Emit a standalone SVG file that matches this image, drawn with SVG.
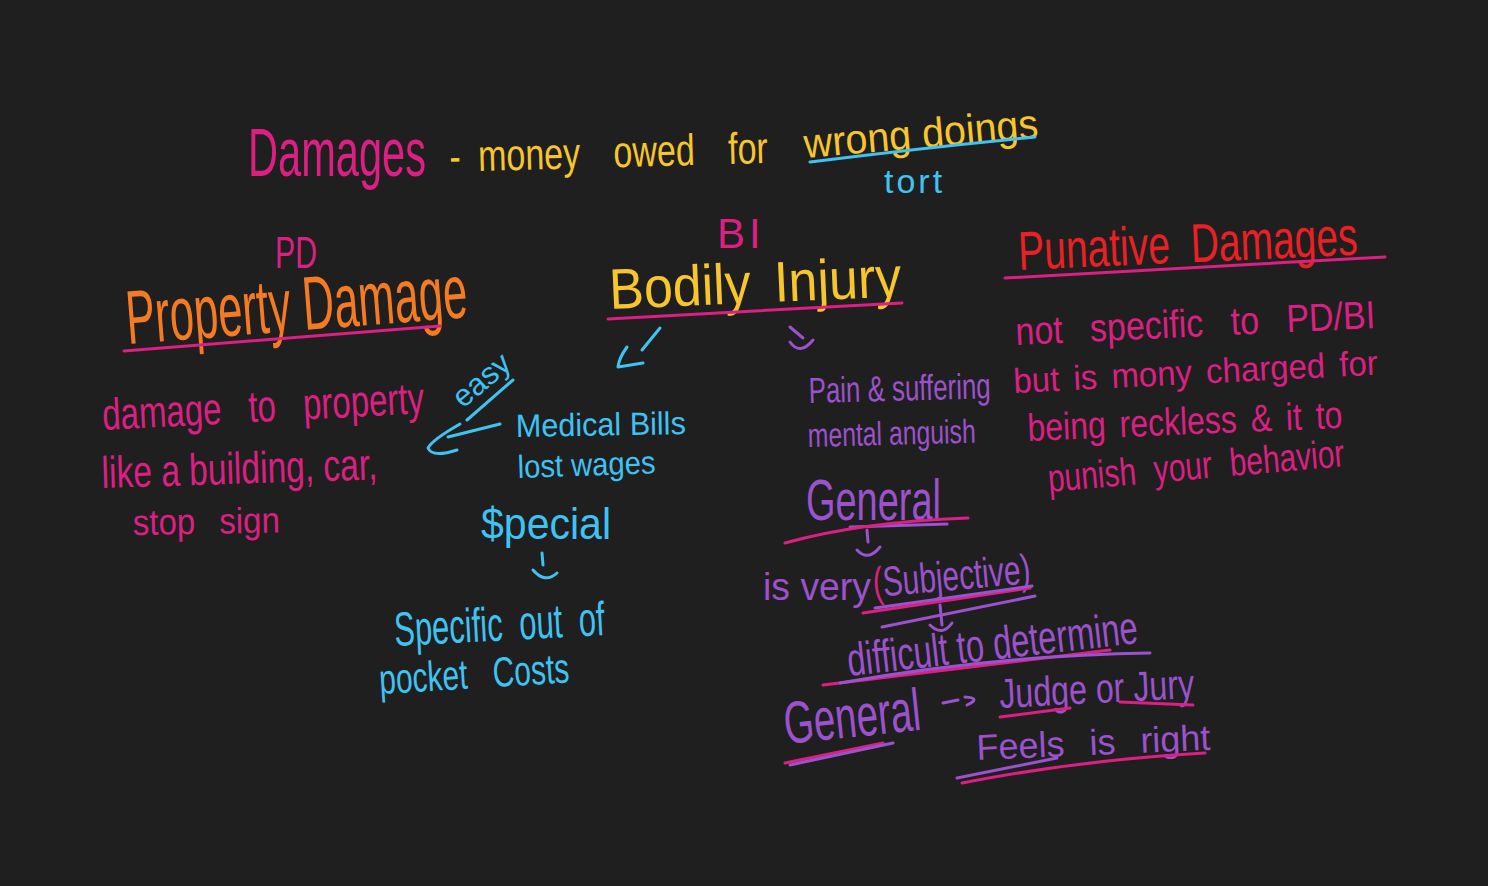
<svg xmlns="http://www.w3.org/2000/svg" width="1488" height="886" viewBox="0 0 1488 886">
<style>
text{font-family:"Liberation Sans","DejaVu Sans",sans-serif;}
.pk{fill:#dc1f82}
.ye{fill:#f7c52c}
.or{fill:#f47b22}
.bl{fill:#3ec3f3}
.pu{fill:#9b52cc}
.rd{fill:#ea2024}
.ln{fill:none;stroke-width:3;stroke-linecap:round;stroke-linejoin:round}
.lpk{stroke:#dc1f82}
.lpu{stroke:#9b52cc}
.lbl{stroke:#3ec3f3}
</style>
<rect width="1488" height="886" fill="#1f1f1f"/>

<g id="title">
<text class="pk" font-size="41.6" textLength="178" lengthAdjust="spacingAndGlyphs" transform="translate(248,176) scale(1,1.65)">Damages</text>
<text class="ye" font-size="34" word-spacing="24" transform="translate(445,172) rotate(-1.6) scale(1,1.3)">-<tspan dx="-16"> money owed for</tspan></text>
<text class="ye" font-size="39.5" textLength="235" lengthAdjust="spacingAndGlyphs" transform="translate(805,158) rotate(-5) scale(1,1.05)">wrong doings</text>
<path class="ln lbl" d="M810 162 Q920 148 1035 137"/>
<text class="bl" font-size="34" letter-spacing="3" transform="translate(884,193)">tort</text>
</g>

<g id="property-damage">
<text class="pk" font-size="30" textLength="42" lengthAdjust="spacingAndGlyphs" transform="translate(275,268) scale(1,1.5)">PD</text>
<text class="or" font-size="43.6" textLength="342" lengthAdjust="spacingAndGlyphs" transform="translate(128,344) rotate(-4.5) scale(1,1.75)">Property Damage</text>
<path class="ln lpk" d="M124 351 L440 326"/>
<text class="pk" font-size="33" word-spacing="18" transform="translate(103,430) rotate(-3) scale(1,1.35)">damage to property</text>
<text class="pk" font-size="33" textLength="276" lengthAdjust="spacingAndGlyphs" transform="translate(102,488) rotate(-1.8) scale(1,1.35)">like a building, car,</text>
<text class="pk" font-size="33" word-spacing="15" transform="translate(133,535) rotate(-1) scale(1,1.1)">stop sign</text>
</g>

<g id="bodily-injury">
<text class="pk" font-size="42" letter-spacing="4" transform="translate(717,248)">BI</text>
<text class="ye" font-size="52" word-spacing="9" transform="translate(610,309) rotate(-2.5) scale(1,1.1)">Bodily Injury</text>
<path class="ln lpk" d="M608 319 L902 303"/>
</g>

<g id="special">
<text class="bl" font-size="31" transform="translate(463,409) rotate(-40)">easy</text>
<text class="bl" font-size="30.6" textLength="170" lengthAdjust="spacingAndGlyphs" transform="translate(516,437) rotate(-1) scale(1,1.05)">Medical Bills</text>
<text class="bl" font-size="29.2" textLength="138" lengthAdjust="spacingAndGlyphs" transform="translate(518,478) rotate(-2) scale(1,1.1)">lost wages</text>
<text class="bl" font-size="41" textLength="130" lengthAdjust="spacingAndGlyphs" transform="translate(481,539) scale(1,1.1)">$pecial</text>
<text class="bl" font-size="31" word-spacing="8" transform="translate(395,646) rotate(-3) scale(1,1.55)">Specific out of</text>
<text class="bl" font-size="30" word-spacing="17" transform="translate(380,694) rotate(-3.5) scale(1,1.4)">pocket Costs</text>
</g>

<g id="general">
<text class="pu" font-size="25.8" textLength="182" lengthAdjust="spacingAndGlyphs" transform="translate(809,403) rotate(-1.5) scale(1,1.4)">Pain &amp; suffering</text>
<text class="pu" font-size="24.8" textLength="168" lengthAdjust="spacingAndGlyphs" transform="translate(808,447) rotate(-1.5) scale(1,1.35)">mental anguish</text>
<text class="pu" font-size="38" textLength="135" lengthAdjust="spacingAndGlyphs" transform="translate(806,520) scale(1,1.5)">General</text>
<path class="ln lpu" d="M850 527 L947 524"/>
<path class="ln lpk" d="M785 543 Q860 522 968 518"/>
<text class="pu" font-size="37" textLength="108" lengthAdjust="spacingAndGlyphs" transform="translate(763,600) scale(1,1.05)">is very</text>
<text class="pu" font-size="30" textLength="158" lengthAdjust="spacingAndGlyphs" transform="translate(874,597) rotate(-5) scale(1,1.4)"><tspan class="pk">(</tspan>Subjective)</text>
<path class="ln lpk" d="M863 613 L1030 588"/>
<path class="ln lpu" d="M875 608 L1032 586"/>
<path class="ln lpu" d="M882 627 L1035 596"/>
<text class="pu" font-size="31.9" textLength="292" lengthAdjust="spacingAndGlyphs" transform="translate(849,676) rotate(-6.5) scale(1,1.45)">difficult to determine</text>
<path class="ln lpk" d="M823 685 L1110 650"/>
<path class="ln lpu" d="M840 683 Q1000 655 1150 653"/>
<text class="pu" font-size="38.5" textLength="137" lengthAdjust="spacingAndGlyphs" transform="translate(786,744) rotate(-6) scale(1,1.55)">General</text>
<path class="ln lpk" d="M785 763 L883 743"/>
<path class="ln lpu" d="M790 765 L893 743"/>
<text class="pu" font-size="32" textLength="195" lengthAdjust="spacingAndGlyphs" transform="translate(1000,708) rotate(-3) scale(1,1.3)">Judge or Jury</text>
<path class="ln lpk" d="M1000 717 L1070 708"/>
<path class="ln lpk" d="M1120 702 L1193 705"/>
<text class="pu" font-size="36" word-spacing="15" transform="translate(977,760) rotate(-2.5)">Feels is right</text>
<path class="ln lpu" d="M957 778 L1057 758"/>
<path class="ln lpk" d="M962 783 Q1080 760 1205 753"/>
</g>

<g id="punitive-damages">
<text class="rd" font-size="39" word-spacing="10" transform="translate(1019,270) rotate(-2.6) scale(1,1.4)">Punative Damages</text>
<path class="ln lpk" d="M1005 278 L1385 257"/>
<text class="pk" font-size="34" word-spacing="18" transform="translate(1016,345) rotate(-2.7) scale(1,1.15)">not specific to PD/BI</text>
<text class="pk" font-size="33" word-spacing="5" transform="translate(1014,393) rotate(-2.9) scale(1,1.05)">but is mony charged for</text>
<text class="pk" font-size="32" word-spacing="5" transform="translate(1028,441) rotate(-2.4) scale(1,1.2)">being reckless &amp; it to</text>
<text class="pk" font-size="30" word-spacing="9.5" transform="translate(1049,492) rotate(-5) scale(1,1.3)">punish your behavior</text>
</g>

<g id="connectors">
<path class="ln lbl" d="M660 328 L642 350"/>
<path class="ln lbl" d="M627 347 Q619 358 618 367 L643 363"/>
<path class="ln lpu" d="M790 327 L803 338"/>
<path class="ln lpu" d="M790 342 Q800 356 813 340"/>
<path class="ln lbl" d="M467 420 L513 380"/>
<path class="ln lbl" d="M500 424 L448 437"/>
<path class="ln lbl" d="M460 424 Q432 440 428 448 Q432 458 457 450"/>
<path class="ln lbl" d="M542 553 L543 565"/>
<path class="ln lbl" d="M533 570 Q545 584 557 573"/>
<path class="ln lpu" d="M867 530 L868 542"/>
<path class="ln lpu" d="M857 550 Q868 562 880 547"/>
<path class="ln lpu" d="M940 605 L942 625"/>
<path class="ln lpu" d="M930 625 Q942 637 952 623"/>
<path class="ln lpu" d="M943 703 L958 700"/>
<path class="ln lpu" d="M965 697 Q982 698 967 705"/>
</g>
</svg>
